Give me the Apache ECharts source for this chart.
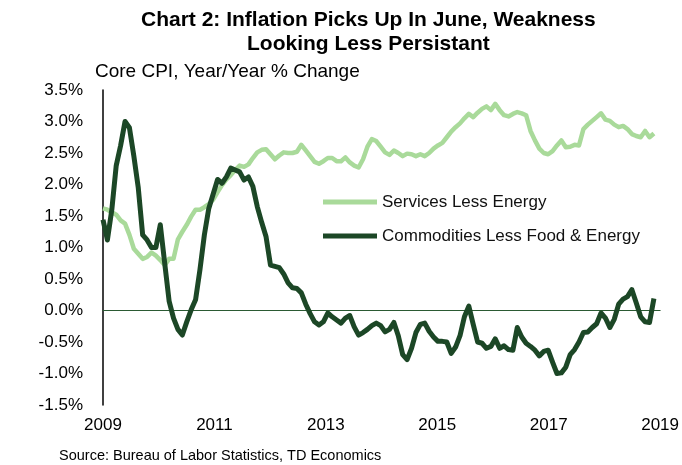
<!DOCTYPE html>
<html>
<head>
<meta charset="utf-8">
<script src="https://cdn.jsdelivr.net/npm/echarts@6/dist/echarts.min.js"></script>
<style>
  html, body { margin: 0; padding: 0; background: #fff; }
  #container { width: 682px; height: 465px; }
</style>
</head>
<body>
<div id="container"></div>
<script>
// monthly, Jan 2009 .. Jun 2019
var startYear = 2009;
var yearTicks = [2009, 2011, 2013, 2015, 2017, 2019];

var servicesLessEnergy = [
    1.62, 1.60, 1.56, 1.52, 1.43, 1.38, 1.20, 0.98, 0.90, 0.82, 0.85, 0.92,
    0.87, 0.80, 0.72, 0.82, 0.82, 1.13, 1.25, 1.36, 1.49, 1.60, 1.60, 1.64,
    1.69, 1.76, 1.88, 1.99, 2.08, 2.15, 2.23, 2.30, 2.28, 2.32, 2.42, 2.51,
    2.55, 2.56, 2.48, 2.40, 2.46, 2.51, 2.50, 2.50, 2.52, 2.63, 2.54, 2.45,
    2.36, 2.33, 2.37, 2.42, 2.42, 2.37, 2.37, 2.43, 2.35, 2.30, 2.27, 2.40,
    2.60, 2.72, 2.69, 2.60, 2.51, 2.47, 2.54, 2.50, 2.45, 2.49, 2.48, 2.45,
    2.48, 2.45, 2.50, 2.57, 2.62, 2.66, 2.75, 2.84, 2.91, 2.97, 3.05, 3.12,
    3.07, 3.14, 3.20, 3.24, 3.18, 3.28, 3.18, 3.10, 3.08, 3.12, 3.15, 3.13,
    3.10, 2.85, 2.70, 2.57, 2.50, 2.48, 2.53, 2.62, 2.70, 2.59, 2.60, 2.63,
    2.62, 2.88, 2.95, 3.01, 3.07, 3.13, 3.03, 3.01, 2.95, 2.91, 2.93, 2.88,
    2.80, 2.77, 2.75, 2.85, 2.75, 2.81
];

var commoditiesLessFoodEnergy = [
    1.44, 1.12, 1.60, 2.30, 2.62, 3.00, 2.90, 2.45, 1.95, 1.20, 1.12, 1.00,
    1.00, 1.36, 0.75, 0.15, -0.12, -0.30, -0.39, -0.18, 0.01, 0.17, 0.65, 1.20,
    1.62, 1.85, 2.08, 2.02, 2.12, 2.26, 2.23, 2.20, 2.07, 2.12, 1.97, 1.65,
    1.40, 1.17, 0.72, 0.70, 0.68, 0.58, 0.44, 0.36, 0.35, 0.28, 0.10, -0.05,
    -0.18, -0.23, -0.18, -0.04, -0.10, -0.15, -0.20, -0.12, -0.08, -0.26, -0.39, -0.35,
    -0.30, -0.24, -0.20, -0.24, -0.34, -0.30, -0.19, -0.40, -0.70, -0.78, -0.60, -0.35,
    -0.22, -0.20, -0.33, -0.42, -0.49, -0.49, -0.50, -0.68, -0.58, -0.40, -0.10, 0.07,
    -0.22, -0.50, -0.52, -0.60, -0.57, -0.45, -0.60, -0.56, -0.62, -0.63, -0.27, -0.42,
    -0.52, -0.57, -0.63, -0.72, -0.65, -0.63, -0.82, -1.00, -0.99, -0.90, -0.70, -0.62,
    -0.50, -0.35, -0.34, -0.27, -0.21, -0.04, -0.12, -0.27, -0.14, 0.10, 0.18, 0.22,
    0.33, 0.12, -0.10, -0.18, -0.19, 0.19
];

var seriesNames = ['Services Less Energy', 'Commodities Less Food & Energy'];
var color = ['#a9da9a', '#1c4726'];

function toPoints(values){
    let pts = [];
    for (let i = 0; i < values.length; i++){
        pts.push([i, values[i]]);
    }
    return pts;
}

function init(){
    let dom = document.getElementById("container");
    let myChart = echarts.init(dom);
    let font = 'Liberation Sans, Arial, sans-serif';
    let option = {
        backgroundColor: '#ffffff',
        animation: false,
        color: color,
        title: [{
            text: 'Core CPI, Year/Year % Change',
            left: 95,
            top: 62,
            padding: 0,
            textStyle: {
                fontFamily: font,
                fontSize: 19,
                fontWeight: 'normal',
                color: '#000'
            }
        }, {
            text: 'Source: Bureau of Labor Statistics, TD Economics',
            left: 59,
            top: 448,
            padding: 0,
            textStyle: {
                fontFamily: font,
                fontSize: 14.5,
                fontWeight: 'normal',
                color: '#000'
            }
        }],
        // main title, two centred lines
        graphic: [{
            type: 'text',
            left: 141,
            top: 8,
            style: {
                text: 'Chart 2: Inflation Picks Up In June, Weakness\nLooking Less Persistant',
                textAlign: 'center',
                font: 'bold 21px ' + font,
                lineHeight: 24,
                fill: '#000'
            }
        }],
        legend: {
            orient: 'vertical',
            left: 323,
            top: 192,
            padding: 0,
            icon: 'rect',
            itemWidth: 54,
            itemHeight: 5,
            itemGap: 14,
            data: seriesNames,
            textStyle: {
                fontFamily: font,
                fontSize: 17,
                lineHeight: 20,
                color: '#111'
            }
        },
        grid: {
            left: 103,
            top: 90,
            width: 560,
            height: 315
        },
        xAxis: [{
            // data axis, months since Jan 2009
            type: 'value',
            position: 'bottom',
            min: 0,
            max: 126.4,
            axisLine: { show: true, onZero: true, lineStyle: { color: '#2b5a33', width: 1.2 } },
            axisTick: { show: false },
            axisLabel: { show: false },
            splitLine: { show: false }
        }, {
            // year labels
            type: 'value',
            position: 'bottom',
            min: startYear,
            max: 2019,
            axisLine: { show: false, onZero: false },
            axisTick: { show: false },
            splitLine: { show: false },
            axisLabel: {
                customValues: yearTicks,
                margin: 12,
                fontFamily: font,
                fontSize: 17,
                color: '#000',
                formatter: function (v) { return String(v); }
            }
        }],
        yAxis: {
            type: 'value',
            min: -1.5,
            max: 3.5,
            interval: 0.5,
            axisLine: { show: true, lineStyle: { color: '#000', width: 1.5 } },
            axisTick: { show: false },
            splitLine: { show: false },
            axisLabel: {
                margin: 20,
                fontFamily: font,
                fontSize: 17,
                color: '#000',
                formatter: function (v) { return v.toFixed(1) + '%'; }
            }
        },
        series: [{
            name: seriesNames[0],
            type: 'line',
            xAxisIndex: 0,
            symbol: 'none',
            lineStyle: { width: 4.5, color: color[0], join: 'round' },
            data: toPoints(servicesLessEnergy)
        }, {
            name: seriesNames[1],
            type: 'line',
            xAxisIndex: 0,
            symbol: 'none',
            lineStyle: { width: 5, color: color[1], join: 'round' },
            data: toPoints(commoditiesLessFoodEnergy)
        }]
    };
    myChart.setOption(option, true);
}

init();
</script>
</body>
</html>
